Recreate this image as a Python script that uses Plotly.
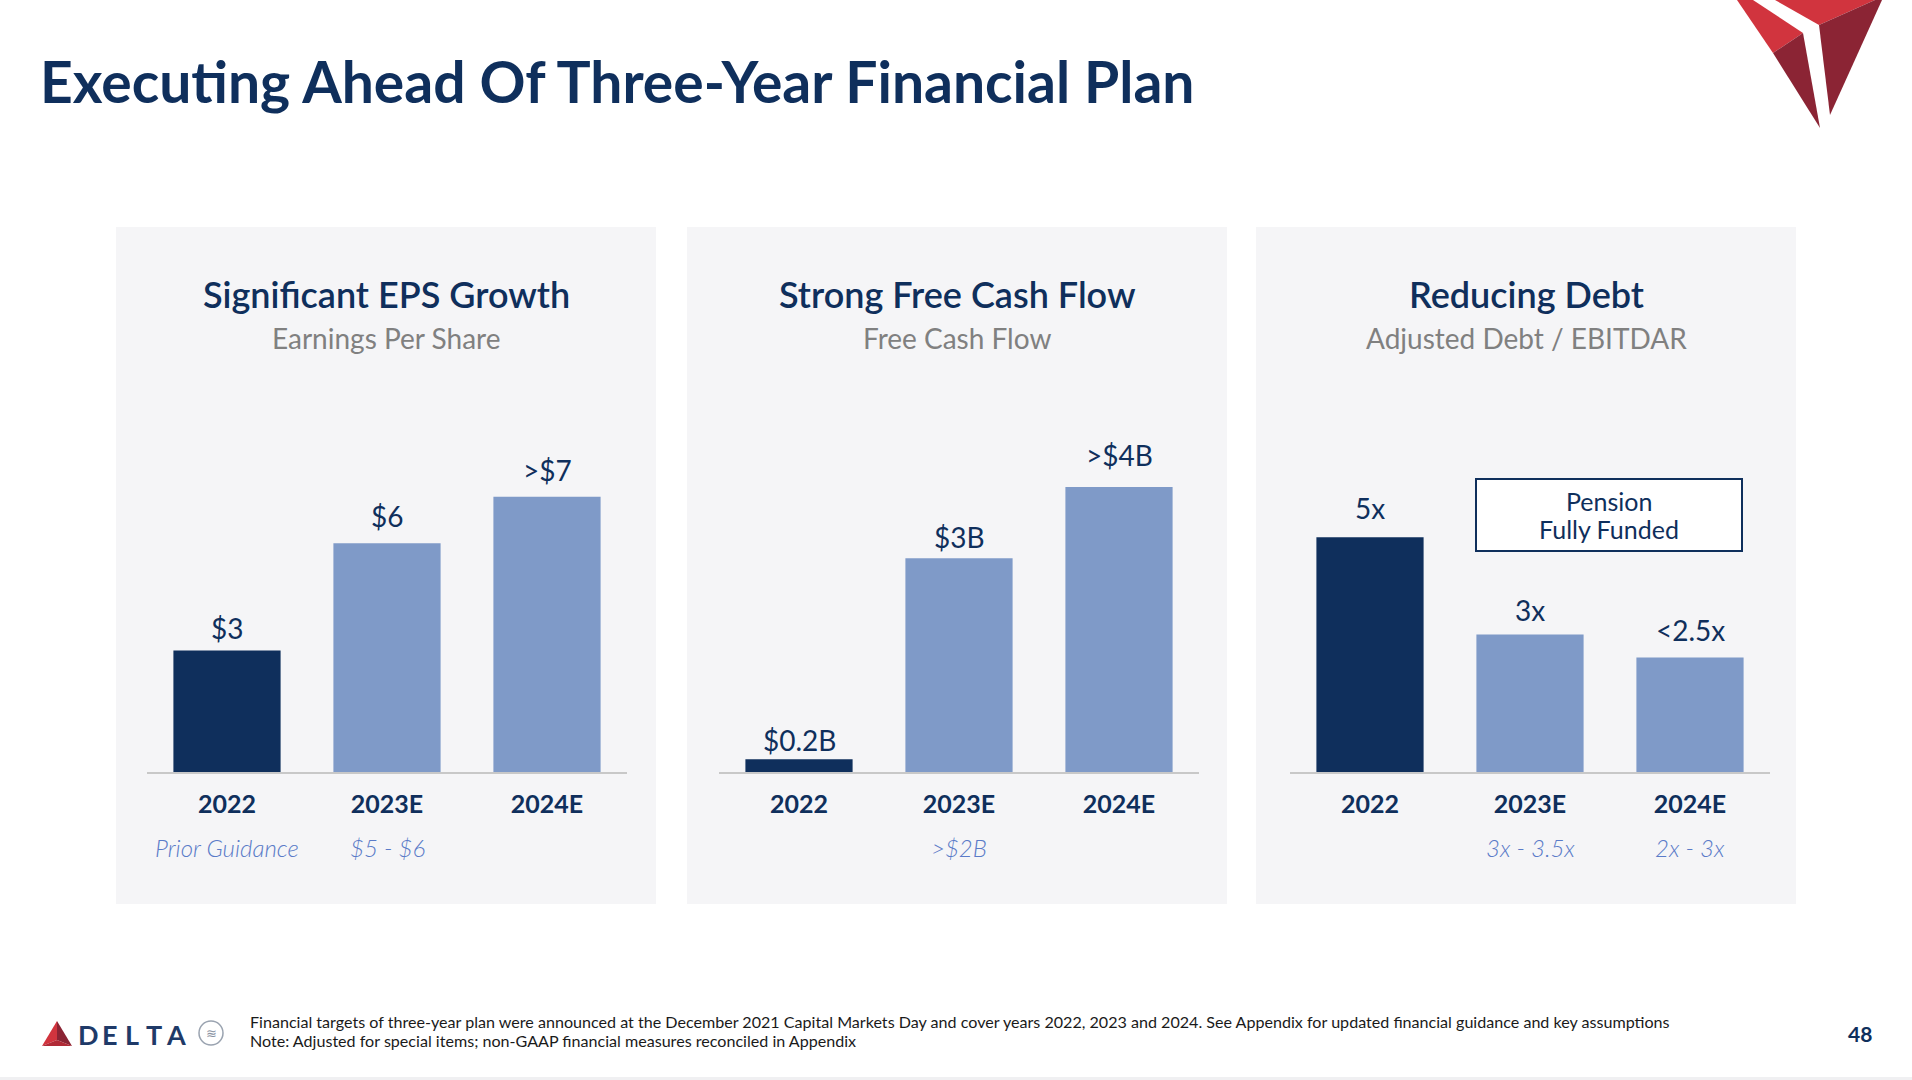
import plotly.graph_objects as go

W, H = 1912, 1080

# ---------------- data ----------------
categories = ["2022", "2023E", "2024E"]

eps_values = [3.0, 5.65, 6.8]
eps_labels = ["$3", "$6", ">$7"]
eps_guidance = ["Prior Guidance", "$5 - $6", ""]

fcf_values = [0.18, 3.0, 4.0]
fcf_labels = ["$0.2B", "$3B", ">$4B"]
fcf_guidance = ["", ">$2B", ""]

debt_values = [5.0, 2.93, 2.44]
debt_labels = ["5x", "3x", "<2.5x"]
debt_guidance = ["", "3x - 3.5x", "2x - 3x"]

panel_titles = ["Significant EPS Growth", "Strong Free Cash Flow", "Reducing Debt"]
panel_subtitles = ["Earnings Per Share", "Free Cash Flow", "Adjusted Debt / EBITDAR"]
pension_lines = ["Pension", "Fully Funded"]

# ---------------- styles ----------------
NAVY = "#0f2f5c"
LIGHT = "#7f9ac8"
GUIDE = "#5a7bc8"
PANEL_BG = "#f5f5f7"
FONT = "Lato"
bar_colors = [NAVY, LIGHT, LIGHT]


def px(x):
    return x / W


def py(y):
    return 1 - y / H


panels = [
    dict(box=(116, 656), axis=(147, 627), ymax=9.93, vals=eps_values, labs=eps_labels,
         guide=eps_guidance, shifts=(23, 27, 27)),
    dict(box=(687, 1227), axis=(719, 1199), ymax=5.64, vals=fcf_values, labs=fcf_labels,
         guide=fcf_guidance, shifts=(19, 21, 32)),
    dict(box=(1256, 1796), axis=(1290, 1770), ymax=8.56, vals=debt_values, labs=debt_labels,
         guide=debt_guidance, shifts=(29, 24, 27)),
]

PLOT_TOP, PLOT_BOT = 370, 772

fig = go.Figure()
shapes = []
annotations = []

for i, p in enumerate(panels):
    n = "" if i == 0 else str(i + 1)
    xa, ya = "x" + n, "y" + n
    fig.add_trace(go.Bar(
        x=categories, y=p["vals"], xaxis=xa, yaxis=ya,
        marker=dict(color=bar_colors, line=dict(width=0)),
        width=0.67, hoverinfo="skip", showlegend=False,
    ))
    fig.update_layout(**{
        "xaxis" + n: dict(
            domain=[px(p["axis"][0]), px(p["axis"][1])], anchor=ya,
            type="category", range=[-0.5, 2.5], showgrid=False, zeroline=False,
            showline=True, linecolor="#c8c8c8", linewidth=2, ticks="",
            tickfont=dict(family=FONT, size=25, color=NAVY, weight="bold"),
            ticklabelstandoff=9, fixedrange=True,
        ),
        "yaxis" + n: dict(
            domain=[py(PLOT_BOT), py(PLOT_TOP)], anchor=xa,
            range=[0, p["ymax"]], visible=False, fixedrange=True,
        ),
    })
    # panel background
    shapes.append(dict(type="rect", xref="paper", yref="paper", layer="below",
                       x0=px(p["box"][0]), x1=px(p["box"][1]), y0=py(904), y1=py(227),
                       fillcolor=PANEL_BG, line=dict(width=0)))
    cx = (p["box"][0] + p["box"][1]) / 2
    annotations.append(dict(xref="paper", yref="paper", x=px(cx), y=py(294),
                            text=panel_titles[i], showarrow=False, xanchor="center", yanchor="middle",
                            font=dict(family=FONT, size=36, color=NAVY, weight=600)))
    annotations.append(dict(xref="paper", yref="paper", x=px(cx), y=py(338),
                            text=panel_subtitles[i], showarrow=False, xanchor="center", yanchor="middle",
                            font=dict(family=FONT, size=28, color="#808080")))
    for k, (v, lab, g) in enumerate(zip(p["vals"], p["labs"], p["guide"])):
        annotations.append(dict(xref=xa, yref=ya, x=k, y=v, text=lab, showarrow=False,
                                xanchor="center", yanchor="middle", yshift=p["shifts"][k],
                                font=dict(family=FONT, size=28, color=NAVY)))
        if g:
            annotations.append(dict(xref=xa, yref="paper", x=k, y=py(847), text=g, showarrow=False,
                                    xanchor="center", yanchor="middle",
                                    font=dict(family=FONT, size=24, color=GUIDE, style="italic", weight=300)))

# Pension box
shapes.append(dict(type="rect", xref="paper", yref="paper",
                   x0=px(1476), x1=px(1742), y0=py(551), y1=py(479),
                   fillcolor="white", line=dict(color=NAVY, width=2)))
for line_txt, ly in zip(pension_lines, [501, 529]):
    annotations.append(dict(xref="paper", yref="paper", x=px(1609), y=py(ly),
                            text=line_txt, showarrow=False, xanchor="center", yanchor="middle",
                            font=dict(family=FONT, size=25, color=NAVY)))

# Main title
annotations.append(dict(xref="paper", yref="paper", x=px(38), y=py(81),
                        text="Executing Ahead Of Three-Year Financial Plan", showarrow=False,
                        xanchor="left", yanchor="middle",
                        font=dict(family=FONT, size=57, color=NAVY, weight="bold")))

# Top-right Delta widget
def poly(pts, color):
    d = "M " + " L ".join(f"{px(x)},{py(y)}" for x, y in pts) + " Z"
    return dict(type="path", xref="paper", yref="paper", path=d, fillcolor=color, line=dict(width=0))

RED = "#d1343e"
DRED = "#8b2434"
shapes += [
    poly([(1737, 0), (1753, 0), (1803, 33), (1773, 53)], RED),
    poly([(1773, 53), (1803, 33), (1820, 128)], DRED),
    poly([(1775, 0), (1875, 0), (1819, 25)], RED),
    poly([(1819, 25), (1875, 0), (1882, 0), (1830, 115)], DRED),
]

# Footer Delta logo
shapes += [
    poly([(57, 1021), (42, 1046), (57, 1040)], RED),
    poly([(57, 1021), (57, 1040), (72, 1046)], DRED),
    poly([(42, 1046), (57, 1040), (72, 1046)], "#b02a36"),
    dict(type="circle", xref="paper", yref="paper", x0=px(199), x1=px(223), y0=py(1045), y1=py(1021),
         line=dict(color="#9aa3b0", width=1.5), fillcolor="white"),
]
for k, letter in enumerate("DELTA"):
    annotations.append(dict(xref="paper", yref="paper", x=px(88 + k * 22), y=py(1034), text=letter,
                            showarrow=False, xanchor="center", yanchor="middle",
                            font=dict(family=FONT, size=27, color="#1f3a68", weight="bold")))
annotations.append(dict(xref="paper", yref="paper", x=px(211), y=py(1033), text="≋", showarrow=False,
                        xanchor="center", yanchor="middle", font=dict(family="DejaVu Sans", size=13, color="#8a93a3")))

# Footnotes
annotations.append(dict(xref="paper", yref="paper", x=px(248), y=py(1021),
                        text="Financial targets of three-year plan were announced at the December 2021 Capital Markets Day and cover years 2022, 2023 and 2024. See Appendix for updated financial guidance and key assumptions",
                        showarrow=False, xanchor="left", yanchor="middle",
                        font=dict(family=FONT, size=16.1, color="#1a1a1a")))
annotations.append(dict(xref="paper", yref="paper", x=px(248), y=py(1040),
                        text="Note: Adjusted for special items; non-GAAP financial measures reconciled in Appendix",
                        showarrow=False, xanchor="left", yanchor="middle",
                        font=dict(family=FONT, size=16.1, color="#1a1a1a")))
annotations.append(dict(xref="paper", yref="paper", x=px(1860), y=py(1033), text="48",
                        showarrow=False, xanchor="center", yanchor="middle",
                        font=dict(family=FONT, size=21, color=NAVY, weight="bold")))

# bottom strip
shapes.append(dict(type="rect", xref="paper", yref="paper", x0=0, x1=1, y0=0, y1=py(1077),
                   fillcolor="#f0f0f2", line=dict(width=0)))

fig.update_layout(
    width=W, height=H, margin=dict(l=0, r=0, t=0, b=0),
    paper_bgcolor="white", plot_bgcolor="rgba(0,0,0,0)",
    shapes=shapes, annotations=annotations, bargap=0.33,
    font=dict(family=FONT), hovermode=False,
)

fig.write_html("out.html", config={"displayModeBar": False},
               post_script="document.body.style.margin='0';document.body.style.overflow='hidden';")
